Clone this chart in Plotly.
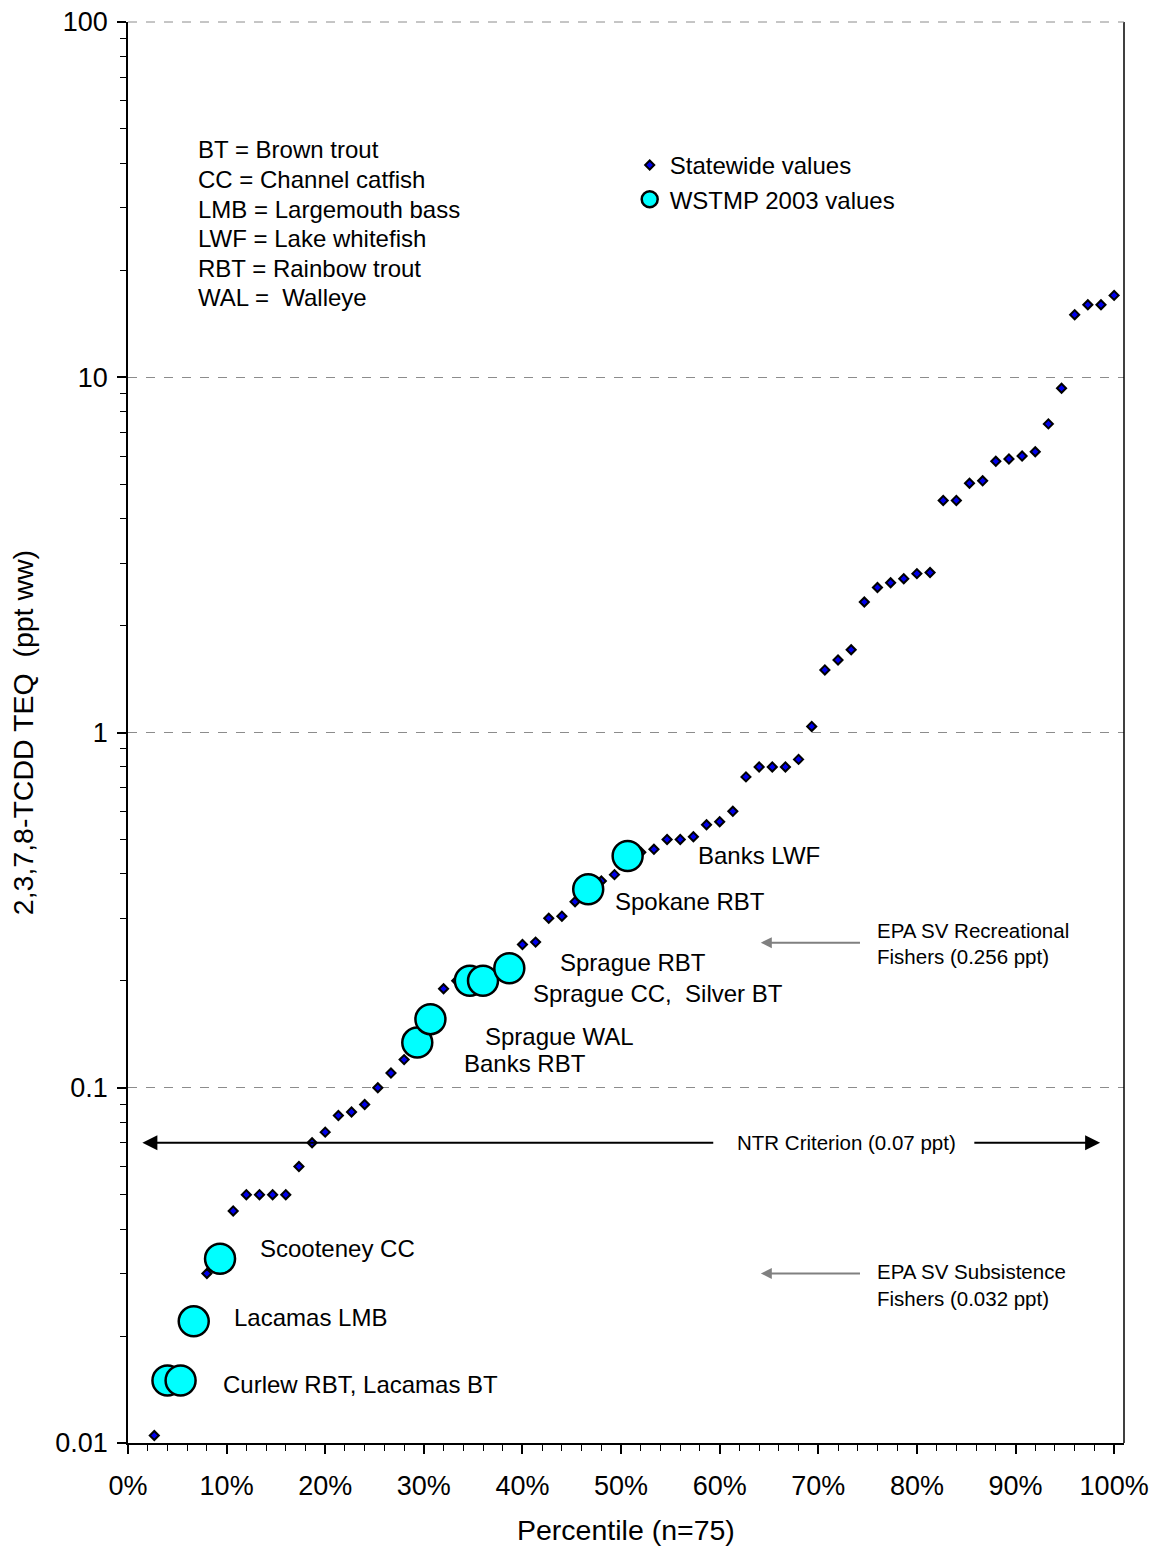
import math
import plotly.graph_objects as go

# ---------------- data ----------------
# Statewide 2,3,7,8-TCDD TEQ values (ppt ww), sorted, n = 75 (first value lies below the axis minimum)
statewide_teq = [
    0.008, 0.0105, 0.015, 0.015, 0.022, 0.030, 0.033, 0.045, 0.05, 0.05,
    0.05, 0.05, 0.06, 0.07, 0.075, 0.0835, 0.0855, 0.0897, 0.10, 0.11,
    0.12, 0.134, 0.156, 0.19, 0.20, 0.20, 0.20, 0.21, 0.217, 0.253,
    0.257, 0.30, 0.304, 0.334, 0.362, 0.382, 0.398, 0.449, 0.46, 0.469,
    0.50, 0.50, 0.509, 0.55, 0.561, 0.60, 0.75, 0.80, 0.80, 0.80,
    0.84, 1.04, 1.50, 1.60, 1.71, 2.33, 2.56, 2.64, 2.71, 2.80,
    2.82, 4.50, 4.50, 5.03, 5.11, 5.80, 5.89, 6.00, 6.17, 7.39,
    9.31, 15.0, 16.0, 16.0, 17.0,
]
n_statewide = len(statewide_teq)
statewide_rank = list(range(1, n_statewide + 1))
statewide_pct = [r / n_statewide for r in statewide_rank]

# WSTMP 2003 values: rank within the statewide set and value
wstmp_rank = [3, 4, 5, 7, 22, 23, 26, 27, 29, 35, 38]
wstmp_teq = [0.015, 0.015, 0.022, 0.033, 0.134, 0.156, 0.20, 0.20, 0.217, 0.362, 0.449]
wstmp_pct = [r / n_statewide for r in wstmp_rank]

# labels for WSTMP points: (text, x percentile, y value)
site_labels = [
    ("Scooteney CC", 0.1315, 0.0352),
    ("Lacamas LMB", 0.1052, 0.0226),
    ("Curlew RBT, Lacamas BT", 0.0940, 0.01457),
    ("Sprague WAL", 0.3597, 0.1398),
    ("Banks RBT", 0.3384, 0.1173),
    ("Sprague RBT", 0.4358, 0.2245),
    ("Sprague CC,\u00a0 Silver BT", 0.4085, 0.1848),
    ("Spokane RBT", 0.4916, 0.3355),
    ("Banks LWF", 0.5758, 0.4520),
]

species_key = [
    "BT = Brown trout",
    "CC = Channel catfish",
    "LMB = Largemouth bass",
    "LWF = Lake whitefish",
    "RBT = Rainbow trout",
    "WAL =\u00a0 Walleye",
]

ntr_value = 0.07
rec_value = 0.256
sub_arrow_value = 0.030

FONT = "Arial, 'Liberation Sans', Helvetica, sans-serif"

# plot area target (page px): left 128.3, right 1124.3, top 22, bottom 1443.3
PL, PR, PT, PB = 128.3, 1124.3, 22.0, 1443.3
PW, PH = PR - PL, PB - PT
FIG_W, FIG_H = 1156, 1549


def px(xp):
    return (xp - PL) / PW


def py(yp):
    return (PB - yp) / PH


fig = go.Figure()

fig.add_trace(go.Scatter(
    x=statewide_pct, y=statewide_teq, mode="markers", name="Statewide values",
    marker=dict(symbol="diamond", size=7, color="#0000EE",
                line=dict(color="black", width=2)),
    showlegend=True,
))
fig.add_trace(go.Scatter(
    x=wstmp_pct, y=wstmp_teq, mode="markers", name="WSTMP 2003 values",
    marker=dict(symbol="circle", size=30, color="#00FFFF",
                line=dict(color="black", width=2.5)),
    showlegend=True,
))

ann = []
for txt, xp, yv in site_labels:
    ann.append(dict(x=xp, y=math.log10(yv), xref="x", yref="y", text=txt,
                    showarrow=False, xanchor="left", yanchor="middle",
                    font=dict(size=24, color="black", family=FONT)))

# species key block (top-left)
for k, line in enumerate(species_key):
    ypx = 150 + 29.6 * k
    ann.append(dict(x=px(196), y=py(ypx), xref="paper", yref="paper", text=line,
                    showarrow=False, xanchor="left", yanchor="middle",
                    font=dict(size=24, color="black", family=FONT)))

# NTR criterion double arrow
ly = math.log10(ntr_value)
ann.append(dict(x=0.0146, y=ly, ax=0.595, ay=ly, xref="x", yref="y", axref="x", ayref="y",
                text="", showarrow=True, arrowhead=2, arrowsize=1.5, arrowwidth=2,
                arrowcolor="black"))
ann.append(dict(x=0.9858, y=ly, ax=0.8567, ay=ly, xref="x", yref="y", axref="x", ayref="y",
                text="", showarrow=True, arrowhead=2, arrowsize=1.5, arrowwidth=2,
                arrowcolor="black"))
ann.append(dict(x=0.7289, y=ly, xref="x", yref="y", text="NTR Criterion (0.07 ppt)",
                showarrow=False, xanchor="center", yanchor="middle",
                font=dict(size=20.5, color="black", family=FONT)))

# EPA SV arrows
for yv, l1, l2, y1px, y2px in [
    (rec_value, "EPA SV Recreational", "Fishers (0.256 ppt)", 930.7, 957.0),
    (sub_arrow_value, "EPA SV Subsistence", "Fishers (0.032 ppt)", 1272.0, 1299.0),
]:
    ay_ = math.log10(yv)
    ann.append(dict(x=0.6417, y=ay_, ax=0.7438, ay=ay_, xref="x", yref="y",
                    axref="x", ayref="y", text="", showarrow=True, arrowhead=2,
                    arrowsize=1.1, arrowwidth=2, arrowcolor="#808080"))
    for t, ypx in [(l1, y1px), (l2, y2px)]:
        ann.append(dict(x=px(875.7), y=py(ypx), xref="paper", yref="paper", text=t,
                        showarrow=False, xanchor="left", yanchor="middle",
                        font=dict(size=20.5, color="black", family=FONT)))

# axis titles
ann.append(dict(x=0.5, y=py(1530), xref="paper", yref="paper",
                text="Percentile (n=75)", showarrow=False, xanchor="center",
                yanchor="middle", font=dict(size=28.5, color="black", family=FONT)))
ann.append(dict(x=px(23), y=0.5, xref="paper", yref="paper",
                text="2,3,7,8-TCDD TEQ\u00a0 (ppt ww)", showarrow=False, textangle=-90,
                xanchor="center", yanchor="middle", borderpad=0,
                font=dict(size=28.5, color="black", family=FONT)))

fig.update_layout(
    width=FIG_W, height=FIG_H, autosize=False,
    margin=dict(l=PL, r=FIG_W - PR, t=PT, b=FIG_H - PB, pad=0, autoexpand=False),
    paper_bgcolor="white", plot_bgcolor="white",
    font=dict(family=FONT, color="black"),
    annotations=ann,
    legend=dict(x=px(630), y=py(143), xanchor="left", yanchor="top",
                bgcolor="rgba(0,0,0,0)", borderwidth=0,
                font=dict(size=24, color="black", family=FONT),
                itemsizing="trace", tracegroupgap=0),
    shapes=[
        dict(type="line", xref="paper", yref="paper", x0=1, x1=1, y0=0, y1=1,
             line=dict(color="black", width=1.5)),
        dict(type="line", xref="paper", yref="paper", x0=0, x1=1, y0=1, y1=1,
             line=dict(color="#8c8c8c", width=1, dash="dash")),
    ],
)

fig.update_xaxes(
    range=[0, 1.01], tick0=0, dtick=0.1, tickformat=".0%", automargin=False,
    ticks="outside", ticklen=9, tickwidth=1.5, tickcolor="black",
    minor=dict(ticks="outside", ticklen=6, tickwidth=1, tickcolor="black", dtick=0.02,
               tick0=0, showgrid=False),
    showline=True, linecolor="black", linewidth=1.5, showgrid=False, zeroline=False,
    tickfont=dict(size=27, color="black", family=FONT), ticklabelstandoff=9,
    ticklabeloverflow="allow",
)
fig.update_yaxes(
    type="log", range=[-2, 2], dtick=1, automargin=False,
    ticks="outside", ticklen=9, tickwidth=1.5, tickcolor="black",
    minor=dict(ticks="outside", ticklen=6, tickwidth=1, tickcolor="black", dtick="D1",
               showgrid=False),
    showline=True, linecolor="black", linewidth=1.5,
    showgrid=True, gridcolor="#8c8c8c", griddash="dash", gridwidth=1, zeroline=False,
    tickfont=dict(size=27, color="black", family=FONT), ticklabelstandoff=4,
    ticklabeloverflow="allow",
)

# remove the default 8px page margin so the figure fills the window exactly
fig.write_html("out.html", config={"displayModeBar": False},
               post_script="document.body.style.margin='0px';document.body.style.overflow='hidden';")
